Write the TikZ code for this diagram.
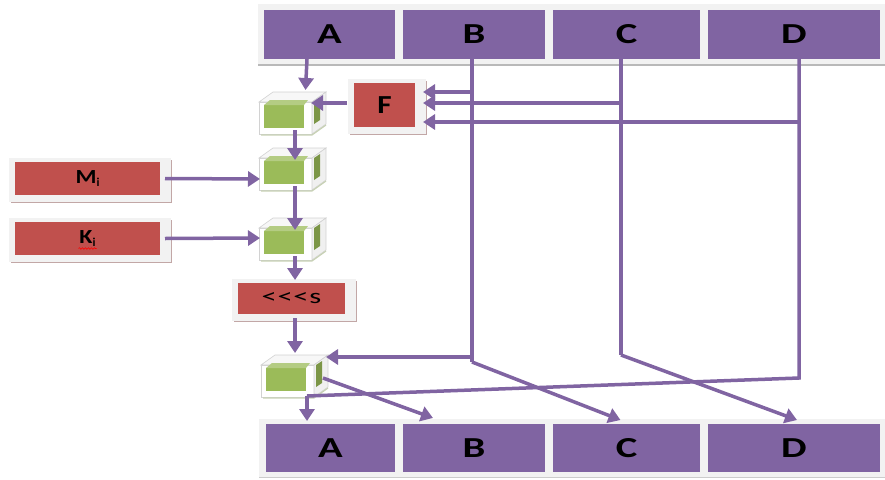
\documentclass[tikz,border=0pt]{standalone}
\usepackage{fontspec}
\setmainfont{Carlito}
\usetikzlibrary{arrows.meta,calc,decorations.pathmorphing}
\definecolor{purp}{HTML}{8064A2}
\definecolor{redb}{HTML}{C0504D}
\definecolor{grn}{HTML}{9BBB59}
\definecolor{panel}{HTML}{F2F2F2}
\tikzset{
  pbox/.style={fill=purp, inner sep=0pt, outer sep=0pt, text=black,
    font=\bfseries\fontsize{29}{29}\selectfont},
  redbox/.style={fill=redb, inner sep=0pt, outer sep=0pt, text=black},
  cubefront/.style={rectangle, minimum width=53pt, minimum height=32pt,
    fill=white, draw=gray!35, line width=0.6pt, inner sep=0pt, outer sep=0pt},
  conn/.style={draw=purp, line width=3.5pt},
  arr/.style={conn, -{Triangle[length=12pt,width=15pt]}},
}
\newcommand\mkcube[2]{%
  \node[cubefront] (#1) at (#2) {};
  \filldraw[fill=gray!6, draw=gray!35, line width=0.6pt]
    (#1.north west) -- ++(14,-10) -- ++(53,0) -- (#1.north east) -- cycle;
  \filldraw[fill=gray!12, draw=gray!35, line width=0.6pt]
    (#1.north east) -- ++(14,-10) -- ++(0,32) -- (#1.south east) -- cycle;
  \draw[grn!60!gray!50, line width=1.2pt]
    ($(#1.south west)+(2,1)$) -- ($(#1.south east)+(0,1)$) -- ++(14,-10);
  \fill[grn] ($(#1.north west)+(5,3)$) rectangle ($(#1.south east)+(-8,-6)$);
  \fill[grn!75!white] ($(#1.north west)+(5,3)$) -- ++(6,-5) -- ++(38,0)
    -- ($(#1.north east)+(-8,3)$) -- cycle;
  \fill[grn!80!black] ($(#1.north east)+(2,0)$) -- ++(6,-4) -- ++(0,22)
    -- ++(-6,4) -- cycle;
}
\newcommand\mkred[5]{%
  \fill[panel] ($(#2)+(-#3/2-6,-#4/2-4)$) rectangle ($(#2)+(#3/2+11,#4/2+7)$);
  \draw[redb!40!gray!60, line width=1pt]
    ($(#2)+(-#3/2-4,#4/2+7)$) -- ($(#2)+(#3/2+11,#4/2+7)$) -- ($(#2)+(#3/2+11,-#4/2-2)$);
  \node[redbox, minimum width=#3pt, minimum height=#4pt] (#1) at (#2) {#5};
}
\begin{document}
\begin{tikzpicture}[x=1pt,y=-1pt]
\useasboundingbox (0,0) rectangle (885,479);
% top bar
\fill[panel] (258,4) rectangle (885,64);
\draw[gray!55, line width=1.5pt] (258,65) -- (885,65);
\node[pbox, minimum width=131pt, minimum height=49pt] (tA) at (329.5,34.5) {\scalebox{1.4}[1]{A}};
\node[pbox, minimum width=142pt, minimum height=49pt] (tB) at (474,34.5) {\scalebox{1.4}[1]{B}};
\node[pbox, minimum width=147pt, minimum height=49pt] (tC) at (626.5,34.5) {\scalebox{1.4}[1]{C}};
\node[pbox, minimum width=172pt, minimum height=49pt] (tD) at (794,34.5) {\scalebox{1.4}[1]{D}};
% bottom bar
\fill[panel] (259,419) rectangle (885,478);
\draw[gray!40, line width=1pt] (259,477.5) -- (885,477.5);
\node[pbox, minimum width=129pt, minimum height=48pt] (bA) at (330.5,448) {\scalebox{1.4}[1]{A}};
\node[pbox, minimum width=142pt, minimum height=48pt] (bB) at (474,448) {\scalebox{1.4}[1]{B}};
\node[pbox, minimum width=147pt, minimum height=48pt] (bC) at (626.5,448) {\scalebox{1.4}[1]{C}};
\node[pbox, minimum width=172pt, minimum height=48pt] (bD) at (794,448) {\scalebox{1.4}[1]{D}};
% red boxes
\mkred{F}{384.5,105}{61}{44}{\bfseries\fontsize{26}{26}\selectfont\scalebox{1.2}[1]{F}}
\mkred{M}{87.5,178.5}{145}{33}{\bfseries\fontsize{20}{20}\selectfont\scalebox{1.2}[1]{M}\raisebox{-3pt}{\fontsize{12}{12}\selectfont i}}
\mkred{K}{87.5,238.5}{145}{33}{\bfseries\fontsize{20}{20}\selectfont\scalebox{1.2}[1]{K}\raisebox{-3pt}{\fontsize{12}{12}\selectfont i}}
\mkred{S}{291.5,298.5}{107}{31}{\fontsize{21}{21}\selectfont\scalebox{1.45}[1]{<\kern0.5pt<\kern0.5pt<\kern0.5pt s}}
\draw[red, line width=0.6pt, decorate, decoration={snake, amplitude=0.8pt, segment length=3pt}]
  ($(K.center)+(-9,10)$) -- ($(K.center)+(9,10)$);
% cubes
\mkcube{c1}{285.5,118}
\mkcube{c2}{285.5,174}
\mkcube{c3}{285.5,244}
\mkcube{c5}{287.5,381}
% junction coordinates
\coordinate (xA) at (307,0);
\coordinate (xB) at (472,0);
\coordinate (xC) at (621,0);
\coordinate (xD) at (799,0);
\coordinate (jB1) at (472,92);
\coordinate (jC1) at (621,103);
\coordinate (jD1) at (799,122);
\coordinate (jB3) at (472,357);
\coordinate (jB2) at (472,362);
\coordinate (jC2) at (621,355);
\coordinate (jD2) at (799,378);
\coordinate (jA) at (307,396);
\coordinate (fE) at ($(F.east)+(8,0)$);
% main column
\draw[arr] (tA.south -| xA) -- ($(c1.north)+(20,-12)$);
\draw[arr] ($(F.west)+(-7,-2)$) -- ($(c1.east)+(-1,-15)$);
\draw[arr] ($(c1.south)+(9.5,-4)$) -- ($(c2.north)+(9.5,2)$);
\draw[arr] ($(c2.south)+(9.5,-4)$) -- ($(c3.north)+(9.5,2)$);
\draw[arr] ($(c3.south)+(9.5,-4)$) -- ($(S.north)+(3.5,-3)$);
\draw[arr] ($(S.south)+(3.5,4)$) -- ($(c5.north)+(7.5,-12)$);
\draw[arr] ($(M.east)+(5,0)$) -- ($(c2.west)+(1,5)$);
\draw[arr] ($(K.east)+(5,0)$) -- ($(c3.west)+(1,-6)$);
% B
\draw[conn] (tB.south -| xB) -- (jB2);
\draw[arr] (jB2) -- ($(bC.north)+(-6,-4)$);
\draw[arr] (jB1) -- (fE |- jB1);
\draw[arr] (jB3) -- ($(c5.north east)+(12,-8)$);
% C
\draw[conn] (tC.south -| xC) -- (jC2);
\draw[arr] (jC2) -- ($(bD.north)+(3,-4)$);
\draw[arr] (jC1) -- (fE |- jC1);
% D
\draw[conn] (tD.south -| xD) -- (jD2) -- (jA);
\draw[arr] (jA) -- ($(bA.north -| xA)+(0,-3)$);
\draw[arr] (jD1) -- (fE |- jD1);
% cube5 to B
\draw[arr] ($(c5.east)+(9,-3)$) -- ($(bB.north)+(-41,-6)$);
\end{tikzpicture}
\end{document}
